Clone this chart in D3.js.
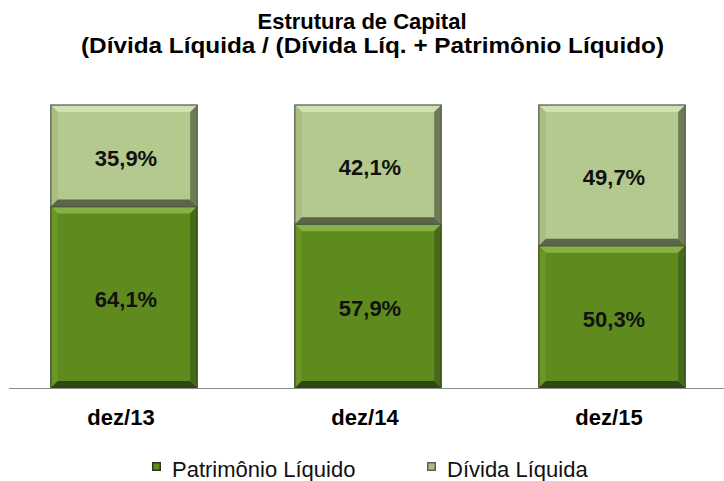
<!DOCTYPE html>
<html>
<head>
<meta charset="utf-8">
<script src="https://cdn.jsdelivr.net/npm/d3@7"></script>
<style>
  body { margin: 0; background: #fff; }
  svg { display: block; font-family: "Liberation Sans", Arial, sans-serif; }
</style>
</head>
<body>
<div id="chart"></div>
<script>
const categories = ["dez/13", "dez/14", "dez/15"];
const patrimonio = [64.1, 57.9, 50.3];
const divida = [35.9, 42.1, 49.7];
const seriesNames = ["Patrimônio Líquido", "Dívida Líquida"];

const width = 724, height = 481;
const plotTop = 105, plotBase = 388;

const svg = d3.select("#chart").append("svg")
    .attr("width", width)
    .attr("height", height);

// title
svg.append("text")
    .attr("x", 362).attr("y", 29)
    .attr("text-anchor", "middle")
    .style("font-weight", "bold").style("font-size", "22px")
    .text("Estrutura de Capital");
svg.append("text")
    .attr("x", 81).attr("y", 53)
    .attr("textLength", 583)
    .attr("lengthAdjust", "spacingAndGlyphs")
    .style("font-weight", "bold").style("font-size", "22px")
    .text("(Dívida Líquida / (Dívida Líq. + Patrimônio Líquido)");

const x = d3.scaleBand()
    .domain(categories)
    .range([2, 734])
    .paddingInner(0.4)
    .paddingOuter(0.2);

const y = d3.scaleLinear()
    .domain([0, 100])
    .range([plotBase, plotTop]);

const styles = [
    { main: "#5f8b1e", top: "#86b245", left: "#6a9624", right: "#46691a", bottom: "#2f4512", stroke: "#35451f" },
    { main: "#b4c98d", top: "#d2e1b3", left: "#a9bd83", right: "#6d7b55", bottom: "#5b6649", stroke: "#4f5a40" }
];

const bevel = 7;

function drawBlock(g, x0, y0, w, h, s) {
    const x1 = x0 + w, y1 = y0 + h;
    const b = Math.min(bevel, h / 3);
    g.append("rect").attr("x", x0).attr("y", y0).attr("width", w).attr("height", h).attr("fill", s.main);
    const poly = (pts, fill) => g.append("polygon")
        .attr("points", pts.map(p => p.join(",")).join(" "))
        .attr("fill", fill);
    poly([[x0, y0], [x1, y0], [x1 - b, y0 + b], [x0 + b, y0 + b]], s.top);
    poly([[x0, y0], [x0 + b, y0 + b], [x0 + b, y1 - b], [x0, y1]], s.left);
    poly([[x1, y0], [x1, y1], [x1 - b, y1 - b], [x1 - b, y0 + b]], s.right);
    poly([[x0, y1], [x0 + b, y1 - b], [x1 - b, y1 - b], [x1, y1]], s.bottom);
    g.append("rect").attr("x", x0).attr("y", y0).attr("width", w).attr("height", h)
        .attr("fill", "none").attr("stroke", s.stroke).attr("stroke-width", 1.2);
}

const data = categories.map((c, i) => ({ cat: c, values: [patrimonio[i], divida[i]] }));

data.forEach(d => {
    const g = svg.append("g");
    let acc = 0;
    d.values.forEach((v, k) => {
        const y0 = y(acc + v), y1 = y(acc);
        drawBlock(g, x(d.cat), y0, x.bandwidth(), y1 - y0, styles[k]);
        g.append("text")
            .attr("x", x(d.cat) + x.bandwidth() / 2 + 2)
            .attr("y", (y0 + y1) / 2 + 10)
            .attr("text-anchor", "middle")
            .style("font-weight", "bold").style("font-size", "22px")
            .attr("fill", "#111")
            .text(v.toFixed(1).replace(".", ",") + "%");
        acc += v;
    });
});

// baseline
svg.append("line")
    .attr("x1", 9).attr("x2", 724)
    .attr("y1", plotBase + 0.5).attr("y2", plotBase + 0.5)
    .attr("stroke", "#8c8c8c").attr("stroke-width", 1.2);

// category labels
svg.selectAll(".cat")
    .data(categories)
    .enter()
    .append("text")
    .attr("class", "cat")
    .attr("x", d => x(d) + x.bandwidth() / 2 - 3)
    .attr("y", 425)
    .attr("text-anchor", "middle")
    .style("font-weight", "bold").style("font-size", "22px")
    .text(d => d);

// legend
const legendX = [152, 427];
seriesNames.forEach((name, k) => {
    const lg = svg.append("g").attr("transform", `translate(${legendX[k]},462)`);
    lg.append("rect").attr("width", 9).attr("height", 9).attr("fill", k === 0 ? "#2a3a14" : "#5b6649");
    lg.append("rect").attr("x", 1.5).attr("y", 1.5).attr("width", 6).attr("height", 6).attr("fill", k === 0 ? "#5f8b1e" : "#a9bd83");
    lg.append("text")
        .attr("x", 20).attr("y", 15)
        .style("font-size", "22px")
        .attr("fill", "#111")
        .text(name);
});
</script>
</body>
</html>
